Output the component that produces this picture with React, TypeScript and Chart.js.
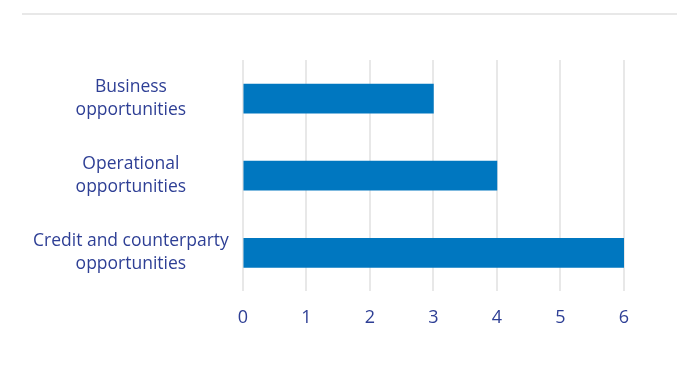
import React, { useEffect, useRef } from "react";
import { Chart, registerables } from "chart.js";

Chart.register(...registerables);

const categories: (string | string[])[] = [
  ["Business", "opportunities"],
  ["Operational", "opportunities"],
  ["Credit and counterparty", "opportunities"],
];
const values = [3, 4, 6];
const xTicks = [0, 1, 2, 3, 4, 5, 6];

export default function App() {
  const ref = useRef<HTMLCanvasElement | null>(null);
  useEffect(() => {
    if (!ref.current) return;
    const chart = new Chart(ref.current, {
      type: "bar",
      data: {
        labels: categories,
        datasets: [
          {
            data: values,
            backgroundColor: "#0077c0",
            barThickness: 29,
          },
        ],
      },
      options: {
        indexAxis: "y",
        animation: false,
        responsive: true,
        maintainAspectRatio: false,
        layout: { padding: { left: 5, right: 53, top: 45, bottom: 15 } },
        plugins: { legend: { display: false }, tooltip: { enabled: false } },
        scales: {
          x: {
            min: 0,
            max: 6,
            afterBuildTicks: (axis: any) => {
              axis.ticks = xTicks.map((v) => ({ value: v }));
            },
            grid: { color: "#e8e8e8", lineWidth: 2, drawTicks: false },
            border: { display: false },
            ticks: {
              color: "#2e3f95",
              padding: 16,
              font: { family: "Open Sans", size: 18 },
            },
          },
          y: {
            grid: { display: false },
            border: { display: false },
            ticks: {
              color: "#2e3f95",
              crossAlign: "center",
              padding: 6,
              font: { family: "Open Sans", size: 17.5, lineHeight: 1.3 },
            },
          },
        },
      },
    });
    return () => chart.destroy();
  }, []);
  return (
    <div
      style={{
        position: "fixed",
        left: 22,
        top: 13,
        width: 655,
        borderTop: "2px solid #e8e8e8",
      }}
    >
      <div style={{ position: "relative", width: 655, height: 345 }}>
        <canvas ref={ref} />
      </div>
    </div>
  );
}
